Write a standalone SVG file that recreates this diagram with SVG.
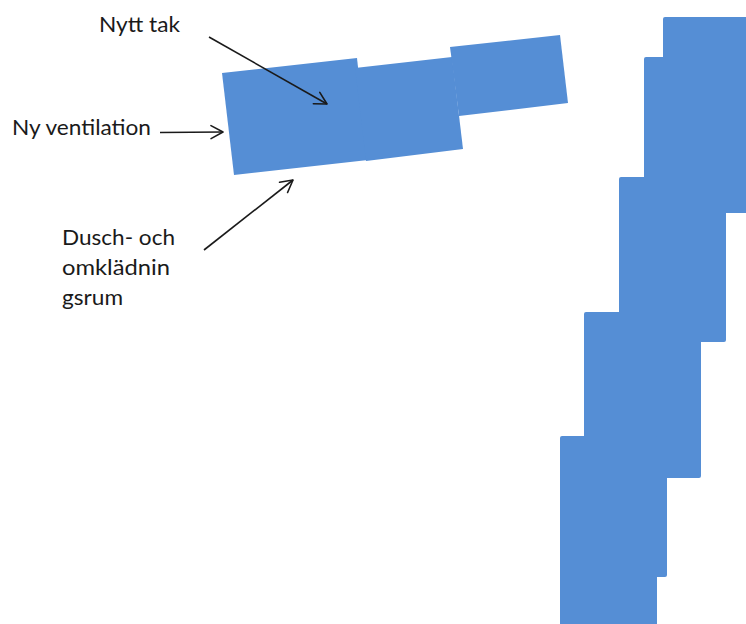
<svg xmlns="http://www.w3.org/2000/svg" width="746" height="624" viewBox="0 0 746 624">
  <style>
    .blk { fill: #558ED5; stroke: none; }
    .lbl { font-family: Lato, "Open Sans", "Liberation Sans", sans-serif; font-size: 22px; fill: #1a1a1a; }
    .arr { stroke: #1a1a1a; stroke-width: 1.6; fill: none; marker-end: url(#open); }
  </style>
  <defs>
    <marker id="open" markerUnits="userSpaceOnUse" viewBox="0 0 16 16" markerWidth="16" markerHeight="16" refX="14" refY="8" orient="auto">
      <path d="M2,1.5 L14,8 L2,14.5" fill="none" stroke="#1a1a1a" stroke-width="1.6" stroke-linecap="round" stroke-linejoin="round"/>
    </marker>
  </defs>
  <rect width="746" height="624" fill="#ffffff"/>

  <g id="roof">
    <polygon class="blk" points="222,73 357,58 368,160 234,175"/>
    <polygon class="blk" points="355,68 452,57 463,149 366,161"/>
    <polygon class="blk" points="450,47 560,35 568,103 459,116"/>
  </g>

  <g id="building">
    <rect class="blk" x="663" y="17" width="90" height="196" rx="2"/>
    <rect class="blk" x="644" y="57" width="82" height="285" rx="2"/>
    <rect class="blk" x="619" y="177" width="82" height="301" rx="2"/>
    <rect class="blk" x="584" y="312" width="83" height="265" rx="2"/>
    <rect class="blk" x="560" y="436" width="97" height="200" rx="2"/>
  </g>

  <g id="label-nytt-tak">
    <text class="lbl" x="99" y="32" textLength="81" lengthAdjust="spacingAndGlyphs">Nytt tak</text>
  </g>
  <g id="label-ny-ventilation">
    <text class="lbl" x="12" y="135" textLength="139" lengthAdjust="spacingAndGlyphs">Ny ventilation</text>
  </g>
  <g id="label-dusch">
    <text class="lbl" x="62" y="245" textLength="113" lengthAdjust="spacingAndGlyphs">Dusch- och</text>
    <text class="lbl" x="62" y="275" textLength="108" lengthAdjust="spacingAndGlyphs">omklädnin</text>
    <text class="lbl" x="62" y="305" textLength="61" lengthAdjust="spacingAndGlyphs">gsrum</text>
  </g>

  <g id="connectors">
    <line class="arr" x1="209" y1="37" x2="327" y2="104"/>
    <line class="arr" x1="160" y1="132.5" x2="223" y2="132"/>
    <line class="arr" x1="204" y1="250" x2="293" y2="180"/>
  </g>
</svg>
